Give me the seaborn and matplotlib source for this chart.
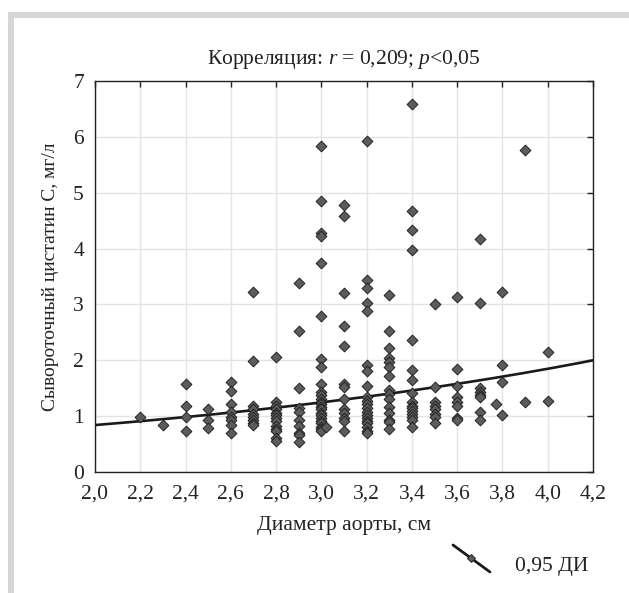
import numpy as np
import pandas as pd
import matplotlib
matplotlib.use("Agg")
import matplotlib.pyplot as plt
from matplotlib.lines import Line2D
from matplotlib.patches import Rectangle
import seaborn as sns

# ---- data ----
diam_22 = [0.98]
diam_23 = [0.84]
diam_24 = [1.58, 1.18, 0.98, 0.74]
diam_25 = [1.12, 0.93, 0.78]
diam_26 = [1.61, 1.45, 1.21, 1.08, 0.98, 0.93, 0.84, 0.70]
diam_27 = [3.23, 1.99, 1.18, 1.12, 1.03, 0.98, 0.93, 0.87, 0.84]
diam_28 = [2.06, 1.25, 1.18, 1.12, 1.06, 1.02, 0.96, 0.91, 0.83, 0.77, 0.73, 0.60, 0.56]
diam_29 = [3.39, 2.52, 1.51, 1.15, 1.08, 0.93, 0.83, 0.70, 0.66, 0.54]
diam_30 = [5.83, 4.85, 4.28, 4.23, 3.74, 2.79, 2.03, 1.88, 1.58, 1.44, 1.38, 1.31,
           1.26, 1.21, 1.17, 1.12, 1.06, 1.02, 0.96, 0.91, 0.87, 0.80, 0.77, 0.73]
diam_302 = [0.81]
diam_31 = [4.78, 4.58, 3.20, 2.62, 2.26, 1.58, 1.53, 1.31, 1.12, 1.06, 0.96, 0.91, 0.74]
diam_32 = [5.92, 3.43, 3.29, 3.03, 2.89, 1.91, 1.81, 1.54, 1.34, 1.27, 1.21, 1.15,
           1.08, 1.02, 0.96, 0.91, 0.87, 0.80, 0.74, 0.70]
diam_33 = [3.16, 2.52, 2.22, 2.04, 1.97, 1.88, 1.71, 1.47, 1.40, 1.31, 1.17, 1.05,
           0.93, 0.89, 0.77]
diam_34 = [6.59, 4.68, 4.34, 3.98, 2.36, 1.82, 1.65, 1.41, 1.26, 1.19, 1.15, 1.09,
           1.04, 0.98, 0.93, 0.81]
diam_35 = [3.00, 1.53, 1.26, 1.18, 1.12, 1.03, 0.98, 0.87]
diam_36 = [3.13, 1.85, 1.54, 1.34, 1.25, 1.19, 0.97, 0.93]
diam_37 = [4.18, 3.03, 1.51, 1.44, 1.38, 1.34, 1.08, 0.93]
diam_377 = [1.21]
diam_38 = [3.23, 1.91, 1.61, 1.02]
diam_39 = [5.76, 1.25]
diam_40 = [2.15, 1.28]

groups = {2.2: diam_22, 2.3: diam_23, 2.4: diam_24, 2.5: diam_25, 2.6: diam_26,
          2.7: diam_27, 2.8: diam_28, 2.9: diam_29, 3.0: diam_30, 3.02: diam_302,
          3.1: diam_31, 3.2: diam_32, 3.3: diam_33, 3.4: diam_34, 3.5: diam_35,
          3.6: diam_36, 3.7: diam_37, 3.77: diam_377, 3.8: diam_38, 3.9: diam_39,
          4.0: diam_40}

# exponential fit shown on the chart: y = exp(fit_a + fit_b * x)
fit_a = -0.962
fit_b = 0.394

x_ticks = [2.0, 2.2, 2.4, 2.6, 2.8, 3.0, 3.2, 3.4, 3.6, 3.8, 4.0, 4.2]
x_tick_labels = ["2,0", "2,2", "2,4", "2,6", "2,8", "3,0", "3,2", "3,4", "3,6", "3,8", "4,0", "4,2"]
y_ticks = [0, 1, 2, 3, 4, 5, 6, 7]

title_text = r"Корреляция: $\mathit{r}$ = 0,209; $\mathit{p}$<0,05"
x_label = "Диаметр аорты, см"
y_label = "Сывороточный цистатин С, мг/л"
legend_label = "0,95 ДИ"

df = pd.DataFrame([(k, v) for k, vals in groups.items() for v in vals],
                  columns=["diam", "cyst"])
fit_x = np.linspace(2.0, 4.2, 200)
fit_df = pd.DataFrame({"diam": fit_x, "cyst": np.exp(fit_a + fit_b * fit_x)})

# ---- style ----
sns.set_theme(style="white")
plt.rcParams["font.family"] = ["Liberation Serif", "DejaVu Serif"]
plt.rcParams["mathtext.fontset"] = "custom"
plt.rcParams["mathtext.rm"] = "Liberation Serif"
plt.rcParams["mathtext.it"] = "Liberation Serif:italic"

FS = 15.5
TXT = "#222222"

fig = plt.figure(figsize=(6.29, 5.93), dpi=100)
fig.patch.set_facecolor("white")
# light grey frame (top and left)
fig.add_artist(Rectangle((8 / 629, 0), 6 / 629, 1 - 12 / 593, transform=fig.transFigure,
                         facecolor="#d6d6d6", edgecolor="none"))
fig.add_artist(Rectangle((8 / 629, 1 - 18 / 593), 1, 6 / 593, transform=fig.transFigure,
                         facecolor="#d6d6d6", edgecolor="none"))

ax = fig.add_axes([95 / 629, 1 - 472 / 593, 498 / 629, 391 / 593])

sns.lineplot(data=fit_df, x="diam", y="cyst", ax=ax, color="#1a1a1a", lw=1.9, zorder=3)
sns.scatterplot(data=df, x="diam", y="cyst", ax=ax, marker="D", s=30,
                color="#5c5c5c", edgecolor="#222222", linewidth=0.7, zorder=4)

ax.set_xlim(2.0, 4.2)
ax.set_ylim(0, 7)
ax.set_xticks(x_ticks)
ax.set_xticklabels(x_tick_labels)
ax.set_yticks(y_ticks)
ax.grid(True, color="#e3e3e3", lw=1.0)
ax.set_axisbelow(True)
for s in ax.spines.values():
    s.set_color("#222222")
    s.set_linewidth(1.0)
ax.tick_params(direction="in", length=4, width=1, color="#222222",
               top=True, right=True, labelsize=FS, labelcolor=TXT)
ax.tick_params(axis="x", pad=9)
ax.tick_params(axis="y", pad=8)
ax.set_xlabel(x_label, fontsize=FS, color=TXT, labelpad=9)
ax.set_ylabel(y_label, fontsize=14, color=TXT, labelpad=10)
ax.set_title(title_text, fontsize=FS, color=TXT, pad=12)

# legend glyph (diagonal line with diamond)
fig.add_artist(Line2D([453 / 629, 490 / 629], [1 - 545 / 593, 1 - 572 / 593],
                      transform=fig.transFigure, color="#1a1a1a", lw=2.0))
fig.add_artist(Line2D([471 / 629], [1 - 558 / 593], transform=fig.transFigure,
                      marker="D", markersize=4, color="#5c5c5c", markeredgecolor="#222222",
                      markeredgewidth=0.7))
fig.text(515 / 629, 1 - 566 / 593, legend_label, fontsize=FS, color=TXT,
         va="center", ha="left")

fig.savefig("out.png", dpi=100)
